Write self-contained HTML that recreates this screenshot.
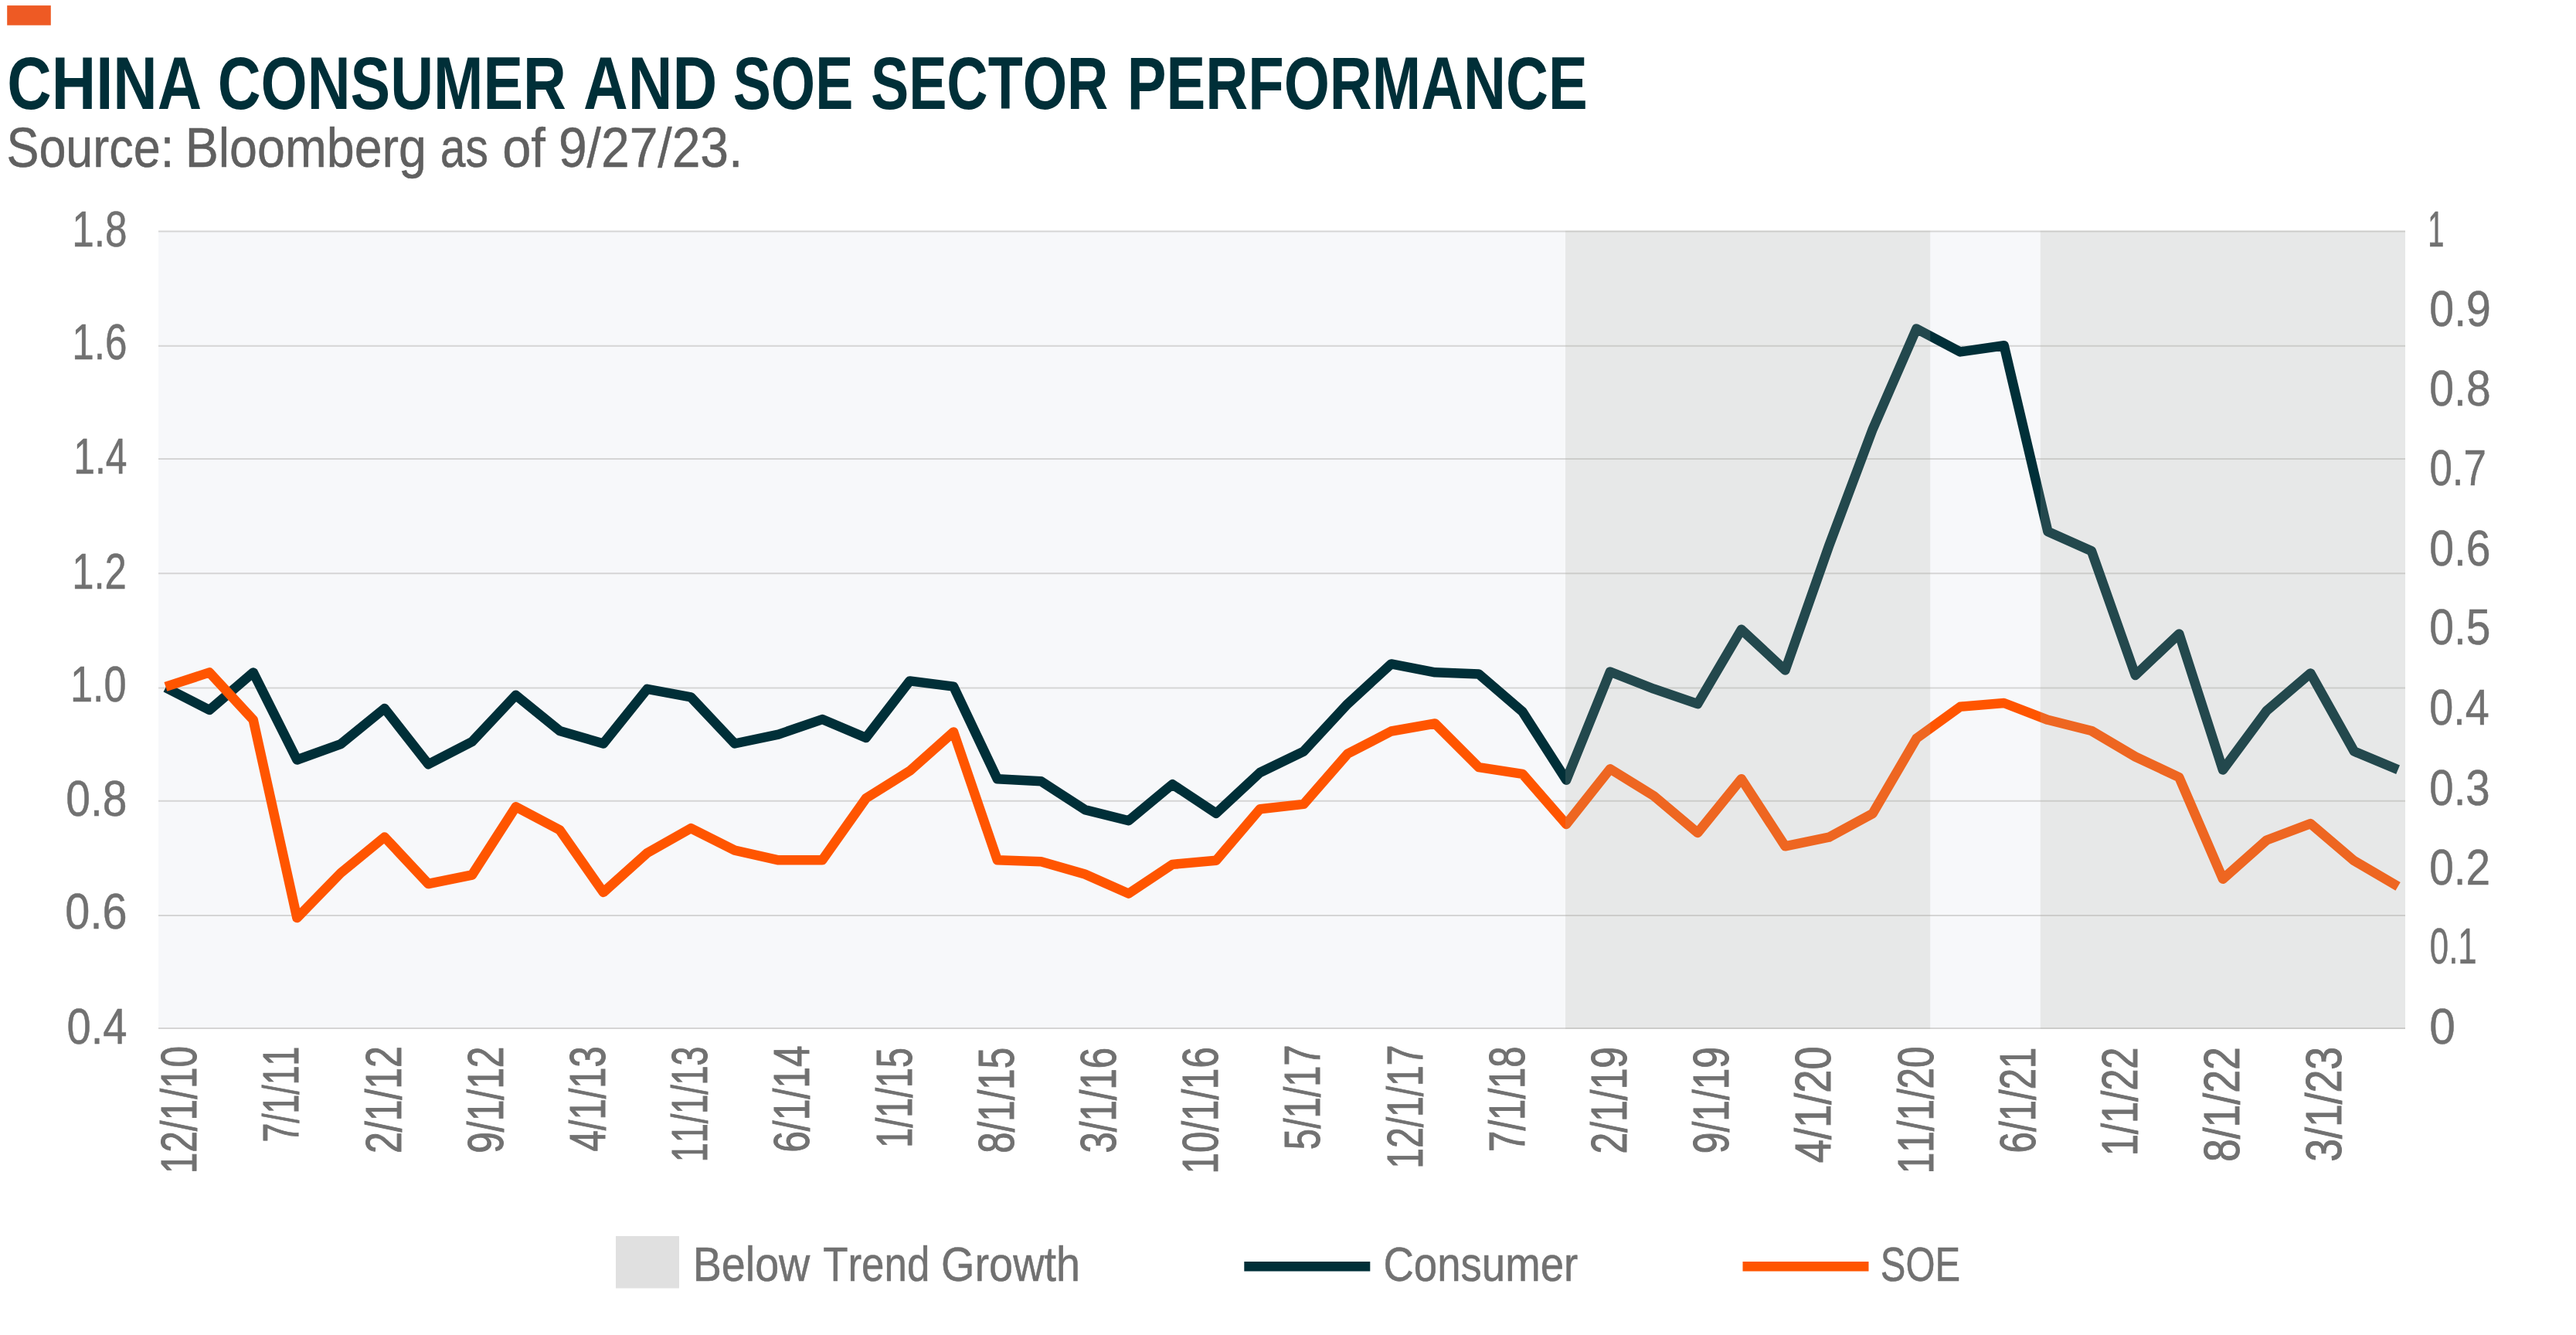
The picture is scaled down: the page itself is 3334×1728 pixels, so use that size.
<!DOCTYPE html>
<html lang="en">
<head>
<meta charset="utf-8">
<title>China Consumer and SOE Sector Performance</title>
<style>
html,body{margin:0;padding:0;background:#fff;}
body{width:3334px;height:1728px;overflow:hidden;}
svg{display:block;font-family:"Liberation Sans",sans-serif;font-kerning:none;}
text{white-space:pre;}
</style>
</head>
<body>
<svg width="3334" height="1728" viewBox="0 0 3334 1728">
<rect x="0" y="0" width="3334" height="1728" fill="#ffffff"/>
<rect x="9.2" y="7.1" width="56.6" height="25.6" fill="#EE5A24"/>
<text transform="translate(9.34 140.70) scale(0.8213 1)" font-size="96.8" font-weight="700" fill="#002F38">CHINA </text>
<text transform="translate(281.73 140.70) scale(0.7990 1)" font-size="96.8" font-weight="700" fill="#002F38">CONSUMER </text>
<text transform="translate(754.91 140.70) scale(0.8261 1)" font-size="96.8" font-weight="700" fill="#002F38">AND </text>
<text transform="translate(948.68 140.70) scale(0.7612 1)" font-size="96.8" font-weight="700" fill="#002F38">SOE </text>
<text transform="translate(1126.97 140.70) scale(0.7622 1)" font-size="96.8" font-weight="700" fill="#002F38">SECTOR </text>
<text transform="translate(1458.81 140.70) scale(0.7859 1)" font-size="96.8" font-weight="700" fill="#002F38">PERFORMANCE</text>
<text transform="translate(8.44 216.00) scale(0.8737 1)" font-size="72.0" fill="#606060" stroke="#606060" stroke-width="0.5" vector-effect="non-scaling-stroke">Source: </text>
<text transform="translate(239.70 216.00) scale(0.8971 1)" font-size="72.0" fill="#606060" stroke="#606060" stroke-width="0.5" vector-effect="non-scaling-stroke">Bloomberg </text>
<text transform="translate(569.70 216.00) scale(0.8184 1)" font-size="72.0" fill="#606060" stroke="#606060" stroke-width="0.5" vector-effect="non-scaling-stroke">as </text>
<text transform="translate(650.20 216.00) scale(0.9277 1)" font-size="72.0" fill="#606060" stroke="#606060" stroke-width="0.5" vector-effect="non-scaling-stroke">of </text>
<text transform="translate(722.91 216.00) scale(0.9166 1)" font-size="72.0" fill="#606060" stroke="#606060" stroke-width="0.5" vector-effect="non-scaling-stroke">9/27/23.</text>
<rect x="205.0" y="299.6" width="2908.0" height="1031.4" fill="#F7F8FA"/>
<g stroke="#D5D5D5" stroke-width="2" fill="none">
<line x1="205.0" y1="299.60" x2="3113.0" y2="299.60"/>
<line x1="205.0" y1="447.70" x2="3113.0" y2="447.70"/>
<line x1="205.0" y1="594.00" x2="3113.0" y2="594.00"/>
<line x1="205.0" y1="742.20" x2="3113.0" y2="742.20"/>
<line x1="205.0" y1="890.50" x2="3113.0" y2="890.50"/>
<line x1="205.0" y1="1036.80" x2="3113.0" y2="1036.80"/>
<line x1="205.0" y1="1184.90" x2="3113.0" y2="1184.90"/>
<line x1="205.0" y1="1331.00" x2="3113.0" y2="1331.00"/>
</g>
<path d="M214.4 890.0 L271.1 919.0 L327.7 870.4 L384.4 983.5 L441.0 963.2 L497.7 917.0 L554.3 989.2 L611.0 960.0 L667.6 899.8 L724.3 945.9 L780.9 962.5 L837.6 891.8 L894.2 902.4 L950.9 962.5 L1007.5 950.6 L1064.2 931.1 L1120.8 954.9 L1177.5 881.4 L1234.1 888.6 L1290.8 1008.2 L1347.4 1011.3 L1404.1 1048.1 L1460.7 1062.2 L1517.4 1015.2 L1574.0 1052.8 L1630.7 1000.0 L1687.3 972.6 L1744.0 911.3 L1800.6 859.4 L1857.3 870.3 L1913.9 872.5 L1970.6 921.3 L2027.2 1009.7 L2083.9 869.5 L2140.5 891.7 L2197.2 911.2 L2253.8 814.8 L2310.5 867.5 L2367.1 706.7 L2423.8 555.4 L2480.4 425.4 L2537.1 455.4 L2593.7 447.2 L2650.4 688.0 L2707.0 713.3 L2763.7 874.0 L2820.3 820.5 L2877.0 996.5 L2933.6 920.0 L2990.3 871.4 L3046.9 972.6 L3103.6 996.2" fill="none" stroke="#002F38" stroke-width="12.5" stroke-linejoin="round" stroke-linecap="butt"/>
<path d="M214.4 888.9 L271.1 870.4 L327.7 931.7 L384.4 1188.1 L441.0 1130.0 L497.7 1083.5 L554.3 1144.0 L611.0 1132.5 L667.6 1044.3 L724.3 1074.2 L780.9 1155.0 L837.6 1104.1 L894.2 1072.1 L950.9 1100.7 L1007.5 1113.3 L1064.2 1113.3 L1120.8 1033.3 L1177.5 997.8 L1234.1 947.5 L1290.8 1113.3 L1347.4 1115.2 L1404.1 1131.5 L1460.7 1156.6 L1517.4 1118.9 L1574.0 1113.8 L1630.7 1047.2 L1687.3 1040.9 L1744.0 975.8 L1800.6 946.5 L1857.3 936.5 L1913.9 993.1 L1970.6 1001.9 L2027.2 1066.9 L2083.9 995.3 L2140.5 1030.2 L2197.2 1078.0 L2253.8 1008.2 L2310.5 1095.3 L2367.1 1083.7 L2423.8 1052.9 L2480.4 955.8 L2537.1 914.7 L2593.7 910.0 L2650.4 931.8 L2707.0 946.0 L2763.7 979.5 L2820.3 1006.1 L2877.0 1137.7 L2933.6 1087.5 L2990.3 1066.1 L3046.9 1114.2 L3103.6 1147.3" fill="none" stroke="#FF5500" stroke-width="12.5" stroke-linejoin="round" stroke-linecap="butt"/>
<rect x="2026" y="298.6" width="472.2" height="1033.4" fill="rgba(170,172,160,0.205)"/>
<rect x="2640.8" y="298.6" width="472.2" height="1033.4" fill="rgba(170,172,160,0.205)"/>
<text transform="translate(93.20 319.05) scale(0.7981 1)" font-size="64.2" fill="#717171" stroke="#717171" stroke-width="0.5" vector-effect="non-scaling-stroke">1.8</text>
<text transform="translate(93.20 464.90) scale(0.7972 1)" font-size="64.2" fill="#717171" stroke="#717171" stroke-width="0.5" vector-effect="non-scaling-stroke">1.6</text>
<text transform="translate(95.21 613.10) scale(0.7760 1)" font-size="64.2" fill="#717171" stroke="#717171" stroke-width="0.5" vector-effect="non-scaling-stroke">1.4</text>
<text transform="translate(93.23 761.90) scale(0.7913 1)" font-size="64.2" fill="#717171" stroke="#717171" stroke-width="0.5" vector-effect="non-scaling-stroke">1.2</text>
<text transform="translate(90.91 908.20) scale(0.8149 1)" font-size="64.2" fill="#717171" stroke="#717171" stroke-width="0.5" vector-effect="non-scaling-stroke">1.0</text>
<text transform="translate(85.27 1056.20) scale(0.8874 1)" font-size="64.2" fill="#717171" stroke="#717171" stroke-width="0.5" vector-effect="non-scaling-stroke">0.8</text>
<text transform="translate(84.35 1202.40) scale(0.8973 1)" font-size="64.2" fill="#717171" stroke="#717171" stroke-width="0.5" vector-effect="non-scaling-stroke">0.6</text>
<text transform="translate(86.40 1351.10) scale(0.8756 1)" font-size="64.2" fill="#717171" stroke="#717171" stroke-width="0.5" vector-effect="non-scaling-stroke">0.4</text>
<text transform="translate(3142.20 319.40) scale(0.5925 1)" font-size="64.2" fill="#717171" stroke="#717171" stroke-width="0.5" vector-effect="non-scaling-stroke">1</text>
<text transform="translate(3144.36 421.50) scale(0.8913 1)" font-size="64.2" fill="#717171" stroke="#717171" stroke-width="0.5" vector-effect="non-scaling-stroke">0.9</text>
<text transform="translate(3144.37 524.70) scale(0.8886 1)" font-size="64.2" fill="#717171" stroke="#717171" stroke-width="0.5" vector-effect="non-scaling-stroke">0.8</text>
<text transform="translate(3144.44 627.90) scale(0.8227 1)" font-size="64.2" fill="#717171" stroke="#717171" stroke-width="0.5" vector-effect="non-scaling-stroke">0.7</text>
<text transform="translate(3144.27 732.40) scale(0.8890 1)" font-size="64.2" fill="#717171" stroke="#717171" stroke-width="0.5" vector-effect="non-scaling-stroke">0.6</text>
<text transform="translate(3144.27 834.20) scale(0.8876 1)" font-size="64.2" fill="#717171" stroke="#717171" stroke-width="0.5" vector-effect="non-scaling-stroke">0.5</text>
<text transform="translate(3144.32 937.90) scale(0.8685 1)" font-size="64.2" fill="#717171" stroke="#717171" stroke-width="0.5" vector-effect="non-scaling-stroke">0.4</text>
<text transform="translate(3144.30 1041.60) scale(0.8782 1)" font-size="64.2" fill="#717171" stroke="#717171" stroke-width="0.5" vector-effect="non-scaling-stroke">0.3</text>
<text transform="translate(3144.28 1145.30) scale(0.8837 1)" font-size="64.2" fill="#717171" stroke="#717171" stroke-width="0.5" vector-effect="non-scaling-stroke">0.2</text>
<text transform="translate(3144.79 1247.20) scale(0.6818 1)" font-size="64.2" fill="#717171" stroke="#717171" stroke-width="0.5" vector-effect="non-scaling-stroke">0.1</text>
<text transform="translate(3144.14 1351.20) scale(0.9417 1)" font-size="64.2" fill="#717171" stroke="#717171" stroke-width="0.5" vector-effect="non-scaling-stroke">0</text>
<text transform="translate(254.10 1519.27) rotate(-90) scale(0.7670 1)" font-size="64.6" fill="#717171" stroke="#717171" stroke-width="0.9" vector-effect="non-scaling-stroke">12/1/10</text>
<text transform="translate(386.30 1478.58) rotate(-90) scale(0.6890 1)" font-size="64.6" fill="#717171" stroke="#717171" stroke-width="0.9" vector-effect="non-scaling-stroke">7/1/11</text>
<text transform="translate(518.50 1493.01) rotate(-90) scale(0.7735 1)" font-size="64.6" fill="#717171" stroke="#717171" stroke-width="0.9" vector-effect="non-scaling-stroke">2/1/12</text>
<text transform="translate(650.70 1492.83) rotate(-90) scale(0.7702 1)" font-size="64.6" fill="#717171" stroke="#717171" stroke-width="0.9" vector-effect="non-scaling-stroke">9/1/12</text>
<text transform="translate(782.90 1490.42) rotate(-90) scale(0.7582 1)" font-size="64.6" fill="#717171" stroke="#717171" stroke-width="0.9" vector-effect="non-scaling-stroke">4/1/13</text>
<text transform="translate(915.10 1504.22) rotate(-90) scale(0.6950 1)" font-size="64.6" fill="#717171" stroke="#717171" stroke-width="0.9" vector-effect="non-scaling-stroke">11/1/13</text>
<text transform="translate(1047.30 1491.83) rotate(-90) scale(0.7711 1)" font-size="64.6" fill="#717171" stroke="#717171" stroke-width="0.9" vector-effect="non-scaling-stroke">6/1/14</text>
<text transform="translate(1179.50 1485.75) rotate(-90) scale(0.7222 1)" font-size="64.6" fill="#717171" stroke="#717171" stroke-width="0.9" vector-effect="non-scaling-stroke">1/1/15</text>
<text transform="translate(1311.70 1492.74) rotate(-90) scale(0.7617 1)" font-size="64.6" fill="#717171" stroke="#717171" stroke-width="0.9" vector-effect="non-scaling-stroke">8/1/15</text>
<text transform="translate(1443.90 1492.47) rotate(-90) scale(0.7607 1)" font-size="64.6" fill="#717171" stroke="#717171" stroke-width="0.9" vector-effect="non-scaling-stroke">3/1/16</text>
<text transform="translate(1576.10 1519.45) rotate(-90) scale(0.7624 1)" font-size="64.6" fill="#717171" stroke="#717171" stroke-width="0.9" vector-effect="non-scaling-stroke">10/1/16</text>
<text transform="translate(1708.30 1488.16) rotate(-90) scale(0.7562 1)" font-size="64.6" fill="#717171" stroke="#717171" stroke-width="0.9" vector-effect="non-scaling-stroke">5/1/17</text>
<text transform="translate(1840.50 1512.86) rotate(-90) scale(0.7446 1)" font-size="64.6" fill="#717171" stroke="#717171" stroke-width="0.9" vector-effect="non-scaling-stroke">12/1/17</text>
<text transform="translate(1972.70 1490.92) rotate(-90) scale(0.7609 1)" font-size="64.6" fill="#717171" stroke="#717171" stroke-width="0.9" vector-effect="non-scaling-stroke">7/1/18</text>
<text transform="translate(2104.90 1493.40) rotate(-90) scale(0.7709 1)" font-size="64.6" fill="#717171" stroke="#717171" stroke-width="0.9" vector-effect="non-scaling-stroke">2/1/19</text>
<text transform="translate(2237.10 1493.23) rotate(-90) scale(0.7699 1)" font-size="64.6" fill="#717171" stroke="#717171" stroke-width="0.9" vector-effect="non-scaling-stroke">9/1/19</text>
<text transform="translate(2369.30 1505.15) rotate(-90) scale(0.8400 1)" font-size="64.6" fill="#717171" stroke="#717171" stroke-width="0.9" vector-effect="non-scaling-stroke">4/1/20</text>
<text transform="translate(2501.50 1519.16) rotate(-90) scale(0.7641 1)" font-size="64.6" fill="#717171" stroke="#717171" stroke-width="0.9" vector-effect="non-scaling-stroke">11/1/20</text>
<text transform="translate(2633.70 1492.40) rotate(-90) scale(0.7617 1)" font-size="64.6" fill="#717171" stroke="#717171" stroke-width="0.9" vector-effect="non-scaling-stroke">6/1/21</text>
<text transform="translate(2765.90 1496.26) rotate(-90) scale(0.7840 1)" font-size="64.6" fill="#717171" stroke="#717171" stroke-width="0.9" vector-effect="non-scaling-stroke">1/1/22</text>
<text transform="translate(2898.10 1504.02) rotate(-90) scale(0.8280 1)" font-size="64.6" fill="#717171" stroke="#717171" stroke-width="0.9" vector-effect="non-scaling-stroke">8/1/22</text>
<text transform="translate(3030.30 1503.74) rotate(-90) scale(0.8284 1)" font-size="64.6" fill="#717171" stroke="#717171" stroke-width="0.9" vector-effect="non-scaling-stroke">3/1/23</text>
<rect x="797" y="1600" width="82" height="67.5" fill="#E0E0E0"/>
<text transform="translate(896.63 1657.70) scale(0.8843 1)" font-size="63.0" fill="#717171" stroke="#717171" stroke-width="0.5" vector-effect="non-scaling-stroke">Below </text>
<text transform="translate(1065.21 1657.70) scale(0.8391 1)" font-size="63.0" fill="#717171" stroke="#717171" stroke-width="0.5" vector-effect="non-scaling-stroke">Trend </text>
<text transform="translate(1218.09 1657.70) scale(0.8861 1)" font-size="63.0" fill="#717171" stroke="#717171" stroke-width="0.5" vector-effect="non-scaling-stroke">Growth</text>
<line x1="1610.3" y1="1639.2" x2="1773.3" y2="1639.2" stroke="#002F38" stroke-width="12.5"/>
<text transform="translate(1790.43 1657.80) scale(0.8664 1)" font-size="63.0" fill="#717171" stroke="#717171" stroke-width="0.5" vector-effect="non-scaling-stroke">Consumer</text>
<line x1="2255.5" y1="1639.2" x2="2418.5" y2="1639.2" stroke="#FF5500" stroke-width="12.5"/>
<text transform="translate(2433.78 1657.80) scale(0.7766 1)" font-size="63.0" fill="#717171" stroke="#717171" stroke-width="0.5" vector-effect="non-scaling-stroke">SOE</text>
</svg>
</body>
</html>
